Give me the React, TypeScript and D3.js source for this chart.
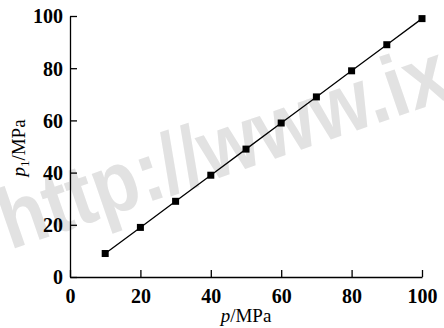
import { useEffect, useRef } from "react";
import * as d3 from "d3";

const pressure = [10, 20, 30, 40, 50, 60, 70, 80, 90, 100];
const p1 = [9, 19, 29, 39, 49, 59, 69, 79, 89, 99];
const xTicks = [0, 20, 40, 60, 80, 100];
const yTicks = [0, 20, 40, 60, 80, 100];
const watermark = "http://www.ix";

const App = () => {
  const svgRef = useRef<SVGSVGElement>(null);

  useEffect(() => {
    const svg = d3.select(svgRef.current);
    svg.selectAll("*").remove();

    const margin = { top: 16, right: 22, bottom: 51, left: 70 };
    const width = 444 - margin.left - margin.right;
    const height = 328 - margin.top - margin.bottom;
    const font = "'Liberation Serif', 'Times New Roman', serif";

    // watermark behind everything (cut by the right edge, as in the scan)
    svg
      .append("text")
      .attr("transform", "translate(10,250) rotate(-19)")
      .attr("font-family", "'Liberation Sans', Arial, sans-serif")
      .attr("font-weight", "bold")
      .attr("font-size", 86)
      .attr("textLength", 470)
      .attr("lengthAdjust", "spacingAndGlyphs")
      .attr("fill", "#e2e2e2")
      .text(watermark);

    const g = svg
      .append("g")
      .attr("transform", `translate(${margin.left},${margin.top})`);

    const x = d3.scaleLinear().domain([0, 100]).range([0, width]);
    const y = d3.scaleLinear().domain([0, 100]).range([height, 0]);

    const xAxis = g
      .append("g")
      .attr("transform", `translate(0,${height})`)
      .call(d3.axisBottom(x).tickValues(xTicks).tickSize(-7).tickSizeOuter(0).tickPadding(12));
    const yAxis = g
      .append("g")
      .call(d3.axisLeft(y).tickValues(yTicks).tickSize(-7).tickSizeOuter(0).tickPadding(7));

    [xAxis, yAxis].forEach((a) => {
      a.selectAll(".domain").attr("stroke", "#000").attr("stroke-width", 1.3);
      a.selectAll(".tick line").attr("stroke", "#000").attr("stroke-width", 1.3);
      a.selectAll(".tick text")
        .attr("fill", "#000")
        .attr("font-family", font)
        .attr("font-weight", "bold")
        .attr("font-size", 20);
    });
    xAxis.selectAll(".tick text").attr("dy", "0.71em");
    yAxis.selectAll(".tick text").attr("dy", "0.34em");

    const data = pressure.map((p, i) => ({ p, v: p1[i] }));
    const line = d3
      .line<{ p: number; v: number }>()
      .x((d) => x(d.p))
      .y((d) => y(d.v));

    g.append("path")
      .datum(data)
      .attr("fill", "none")
      .attr("stroke", "#000")
      .attr("stroke-width", 1.3)
      .attr("d", line);

    g.selectAll("rect.pt")
      .data(data)
      .enter()
      .append("rect")
      .attr("class", "pt")
      .attr("x", (d) => x(d.p) - 3.5)
      .attr("y", (d) => y(d.v) - 3.5)
      .attr("width", 7)
      .attr("height", 7)
      .attr("fill", "#000");

    // x label
    const xl = svg
      .append("text")
      .attr("x", margin.left + width / 2)
      .attr("y", 322)
      .attr("text-anchor", "middle")
      .attr("font-family", font)
      .attr("font-size", 19)
      .attr("fill", "#000");
    xl.append("tspan").attr("font-style", "italic").text("p");
    xl.append("tspan").text("/MPa");

    // y label
    const yl = svg
      .append("text")
      .attr("transform", "translate(25,148) rotate(-90)")
      .attr("text-anchor", "middle")
      .attr("font-family", font)
      .attr("font-size", 19)
      .attr("fill", "#000");
    yl.append("tspan").attr("font-style", "italic").text("p");
    yl.append("tspan").attr("font-size", 13).attr("dy", 4).text("1");
    yl.append("tspan").attr("dy", -4).text("/MPa");
  }, []);

  return (
    <svg
      ref={svgRef}
      width={444}
      height={328}
      style={{ position: "absolute", left: 0, top: 0, background: "#fff" }}
    ></svg>
  );
};

export default App;
